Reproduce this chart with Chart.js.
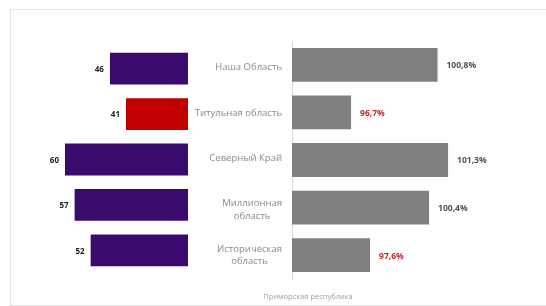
<!DOCTYPE html>
<html>
<head>
<meta charset="utf-8">
<script src="https://cdn.jsdelivr.net/npm/chart.js@4"></script>
<style>
  body { margin: 0; background: #fff; }
  #wrap { position: relative; width: 546px; height: 306px; overflow: hidden; }
  #frame { position: absolute; left: 10px; top: 9px; width: 560px; height: 295px;
           border: 1px solid #e4e4e4; }
  #left { position: absolute; left: 0; top: 0; }
  #right { position: absolute; left: 282px; top: 0; }
  #caption { position: absolute; left: 0; width: 616px; top: 291px; text-align: center;
             font: 7.5px "Open Sans", sans-serif; color: #a0a0a0; }
</style>
</head>
<body>
<div id="wrap">
  <div id="frame"></div>
  <canvas id="left" width="292" height="306"></canvas>
  <canvas id="right" width="264" height="306"></canvas>
  <div id="caption"></div>
</div>
<script>
// chart data
const categories = [["Наша Область"], ["Титульная область"], ["Северный Край"], ["Миллионная", "область"], ["Историческая", "область"]];
const counts = [46, 41, 60, 57, 52];
const shares = [100.8, 96.7, 101.3, 100.4, 97.6];
const caption = "Приморская республика";

const highlight = "Титульная область";
const font = '"Open Sans", sans-serif';

document.getElementById("caption").textContent = caption;

// value + category labels for the left chart
const leftLabels = {
  id: "leftLabels",
  afterDatasetsDraw(chart) {
    const ctx = chart.ctx;
    const meta = chart.getDatasetMeta(0);
    ctx.save();
    ctx.textBaseline = "middle";
    meta.data.forEach((bar, i) => {
      ctx.font = "bold 8px " + font;
      ctx.fillStyle = "#222";
      ctx.textAlign = "right";
      ctx.fillText(counts[i], bar.x - 6, bar.y + 1);

      // category name, block right aligned, lines centred
      ctx.font = "9.5px " + font;
      ctx.fillStyle = "#8a8a8a";
      ctx.textAlign = "center";
      const lines = categories[i];
      const w = Math.max(...lines.map((l) => ctx.measureText(l).width));
      const cx = 282 - w / 2;
      const lh = 12.5;
      const c = chart.scales.y.getPixelForValue(i);
      const y0 = lines.length > 1 ? c - 1.5 : c - 1;
      lines.forEach((l, j) => ctx.fillText(l, cx, y0 + j * lh));
    });
    ctx.restore();
  },
};

const rightLabels = {
  id: "rightLabels",
  afterDatasetsDraw(chart) {
    const ctx = chart.ctx;
    const meta = chart.getDatasetMeta(0);
    ctx.save();
    ctx.textBaseline = "middle";
    ctx.textAlign = "left";
    ctx.font = "bold 8.5px " + font;
    meta.data.forEach((bar, i) => {
      const v = shares[i];
      ctx.fillStyle = v < 100 ? "#c0282d" : "#505050";
      ctx.fillText(v.toFixed(1).replace(".", ",") + "%", bar.x + 9, bar.y + 1);
    });
    ctx.restore();
  },
};

const labelKeys = categories.map((c) => c.join(" "));

new Chart(document.getElementById("left"), {
  type: "bar",
  data: {
    labels: labelKeys,
    datasets: [
      {
        data: counts,
        backgroundColor: labelKeys.map((k) => (k === highlight ? "#c00000" : "#3a0a6c")),
        barPercentage: 0.7,
        categoryPercentage: 1,
      },
    ],
  },
  options: {
    indexAxis: "y",
    responsive: false,
    animation: false,
    layout: { padding: { left: 20, right: 104, top: 46, bottom: 33 } },
    plugins: { legend: { display: false }, tooltip: { enabled: false } },
    scales: {
      x: { display: false, reverse: true, min: 21.7, max: 74 },
      y: { display: false },
    },
  },
  plugins: [leftLabels],
});

new Chart(document.getElementById("right"), {
  type: "bar",
  data: {
    labels: labelKeys,
    datasets: [
      {
        data: shares,
        backgroundColor: "#7f7f7f",
        barPercentage: 0.71,
        categoryPercentage: 1,
      },
    ],
  },
  options: {
    indexAxis: "y",
    responsive: false,
    animation: false,
    layout: { padding: { left: 10, right: 10, top: 41, bottom: 27 } },
    plugins: { legend: { display: false }, tooltip: { enabled: false } },
    scales: {
      x: { display: false, min: 93.9, max: 105.47 },
      y: {
        display: true,
        ticks: { display: false },
        grid: { display: false, drawTicks: false },
        border: { display: true, color: "#d6d6d6", width: 1 },
      },
    },
  },
  plugins: [rightLabels],
});
</script>
</body>
</html>
